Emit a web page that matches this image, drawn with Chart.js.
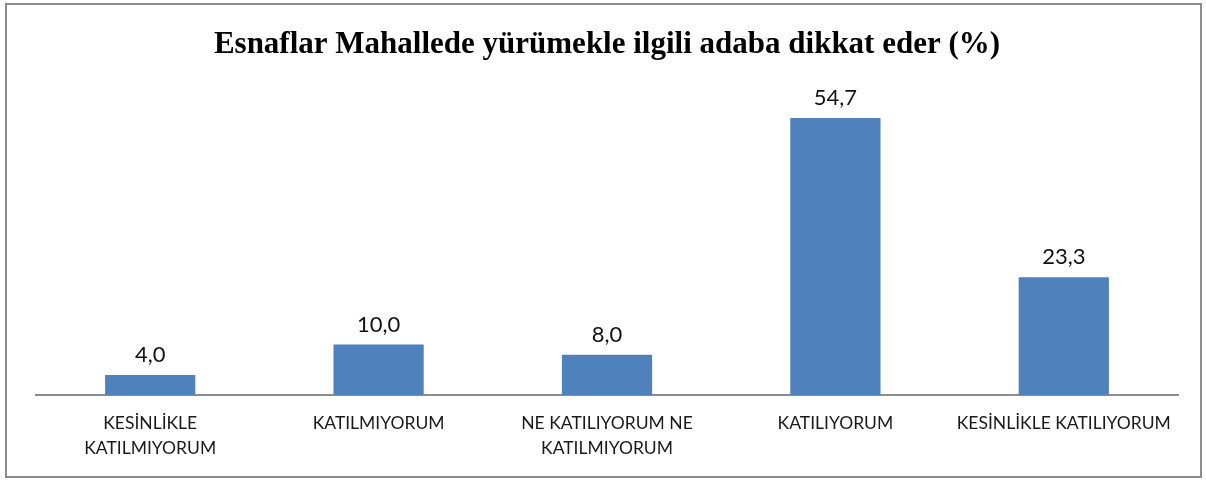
<!DOCTYPE html>
<html>
<head>
<meta charset="utf-8">
<script src="https://cdn.jsdelivr.net/npm/chart.js@4/dist/chart.umd.min.js"></script>
<style>
  body { margin: 0; background: #fff; }
  #frame {
    position: absolute; left: 5px; top: 3px;
    width: 1193px; height: 471px;
    border: 2px solid #8c8c8c;
  }
</style>
</head>
<body>
<div id="frame"><canvas id="myChart" width="1193" height="471"></canvas></div>
<script>
var chartTitle = 'Esnaflar Mahallede yürümekle ilgili adaba dikkat eder (%)';
var categories = [
    ['KESİNLİKLE', 'KATILMIYORUM'],
    'KATILMIYORUM',
    ['NE KATILIYORUM NE', 'KATILMIYORUM'],
    'KATILIYORUM',
    'KESİNLİKLE KATILIYORUM'
];
var percents = [4.0, 10.0, 8.0, 54.7, 23.3];

// writes the value over each bar, with a decimal comma
var valueLabels = {
    id: 'valueLabels',
    afterDatasetsDraw: function(chart){
        var ctx = chart.ctx;
        var meta = chart.getDatasetMeta(0);
        ctx.save();
        ctx.font = '22px Lato';
        ctx.fillStyle = '#111';
        ctx.textAlign = 'center';
        ctx.textBaseline = 'bottom';
        meta.data.forEach(function(bar, i){
            var txt = percents[i].toFixed(1).replace('.', ',');
            ctx.fillText(txt, bar.x, bar.y - 9);
        });
        ctx.restore();
    }
};

var ctx = document.getElementById('myChart').getContext('2d');
var myChart = new Chart(ctx, {
    type: 'bar',
    data: {
        labels: categories,
        datasets: [{
            data: percents,
            backgroundColor: '#4f81bd',
            categoryPercentage: 1.0,
            barPercentage: 0.395
        }]
    },
    options: {
        responsive: false,
        animation: false,
        layout: { padding: { left: 29, right: 22, top: 0, bottom: 0 } },
        plugins: {
            legend: { display: false },
            tooltip: { enabled: false },
            title: {
                display: true,
                text: chartTitle,
                color: '#000',
                font: { family: 'Liberation Serif', size: 31, weight: 'bold' },
                padding: { top: 21, bottom: 28 }
            }
        },
        scales: {
            x: {
                grid: { display: false, drawTicks: false },
                border: { display: true, color: '#8c8c8c', width: 2 },
                ticks: {
                    color: '#1a1a1a',
                    padding: 15,
                    maxRotation: 0,
                    autoSkip: false,
                    font: { family: 'Lato', size: 17.5, lineHeight: 1.45 }
                }
            },
            y: {
                display: false,
                min: 0,
                max: 60
            }
        }
    },
    plugins: [valueLabels]
});
</script>
</body>
</html>
